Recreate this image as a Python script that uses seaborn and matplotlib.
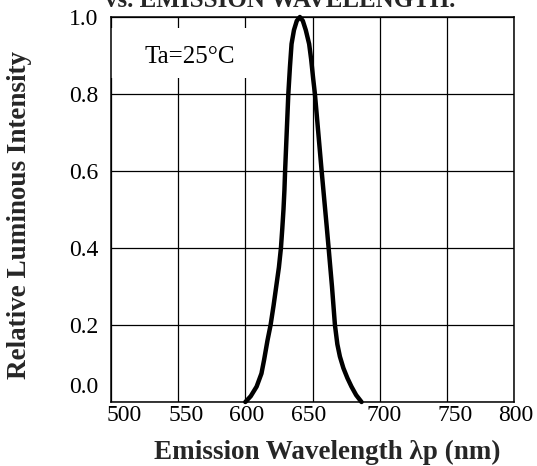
import matplotlib
matplotlib.use("Agg")
import matplotlib.pyplot as plt
import matplotlib.transforms as mtransforms
from matplotlib.patches import Rectangle
import seaborn as sns

# Values
wavelength = [600, 604, 608.4, 612, 614, 616.5, 618.8, 621, 623, 625,
              626.5, 627.5, 628.4, 629.1, 629.6, 630.8, 632, 633.2, 634.4, 636.2,
              638.3, 640.6, 642.8, 645, 647.5, 649, 650.5, 651.8, 654.3, 656.8,
              658.9, 660.6, 662.0, 664.5, 666.7, 668.5, 670.4, 673, 676, 679,
              682.5, 686.5]
intensity = [0.0, 0.015, 0.04, 0.074, 0.11, 0.16, 0.2, 0.25, 0.3, 0.35,
             0.4, 0.45, 0.5, 0.55, 0.6, 0.7, 0.8, 0.87, 0.93, 0.966,
             0.99, 1.0, 0.99, 0.966, 0.93, 0.89, 0.84, 0.8, 0.7, 0.6,
             0.52, 0.455, 0.4, 0.3, 0.2, 0.15, 0.118, 0.088, 0.062, 0.04,
             0.018, 0.0]

x_ticks = [500, 550, 600, 650, 700, 750, 800]
y_ticks = [0.0, 0.2, 0.4, 0.6, 0.8, 1.0]
y_tick_labels = ["0.0", "0.2", "0.4", "0.6", "0.8", "1.0"]

title_text = "vs. EMISSION WAVELENGTH."
x_title = "Emission Wavelength λp (nm)"
y_title = "Relative Luminous Intensity"
note_text = "Ta=25°C"

sns.set_theme(style="whitegrid")
plt.rcParams["font.family"] = ["Liberation Serif", "DejaVu Serif"]

W, H, DPI = 537, 466, 100
fig = plt.figure(figsize=(W / DPI, H / DPI), dpi=DPI)
ax = fig.add_axes([111 / W, 64 / H, 403 / W, 385 / H])

sns.lineplot(x=wavelength, y=intensity, color="black", linewidth=3.2,
             ax=ax, clip_on=False, zorder=5,
             solid_joinstyle="round", solid_capstyle="round")

ax.set_xlim(500, 800)
ax.set_ylim(0, 1.0)
ax.set_xticks(x_ticks)
ax.set_yticks(y_ticks)
ax.set_yticklabels(y_tick_labels)
ax.tick_params(axis="both", length=0, labelsize=17, colors="black")
ax.tick_params(axis="x", pad=2)
ax.tick_params(axis="y", pad=9)

ax.grid(True, color="black", linewidth=0.9)
ax.set_axisbelow(True)
for s in ax.spines.values():
    s.set_color("black")
    s.set_linewidth(1.1)

# white box behind the temperature note hides part of the grid
ax.add_patch(Rectangle((500, 0.842), 112, 0.13, facecolor="white",
                       edgecolor="none", zorder=1.5))
ax.text(558.8, 0.896, note_text, fontsize=18, ha="center", va="center",
        color="black", zorder=6)

ax.set_xlabel("")
ax.set_ylabel("")

# small shifts of individual tick labels, as in the reference
x_shift_px = [13, 8, 1, -4, 4, 8, 2]
for tick, dx in zip(ax.xaxis.get_major_ticks(), x_shift_px):
    lab = tick.label1
    lab.set_transform(lab.get_transform() +
                      mtransforms.ScaledTranslation(dx / DPI, 0, fig.dpi_scale_trans))
ylab0 = ax.yaxis.get_major_ticks()[0].label1
ylab0.set_transform(ylab0.get_transform() +
                    mtransforms.ScaledTranslation(0, 17 / DPI, fig.dpi_scale_trans))

fig.text(327 / W, 1 - 452 / H, x_title, fontsize=19.5, fontweight="bold",
         ha="center", va="center")
fig.text(20 / W, 1 - 215 / H, y_title, fontsize=19.5, fontweight="bold",
         ha="center", va="center", rotation=90)
# second line of the chart heading, cut off at the top edge like the reference
fig.text(280 / W, 1 - 7 / H, title_text, fontsize=18, fontweight="bold",
         ha="center", va="baseline")

fig.savefig("out.png", dpi=DPI, facecolor="white")
